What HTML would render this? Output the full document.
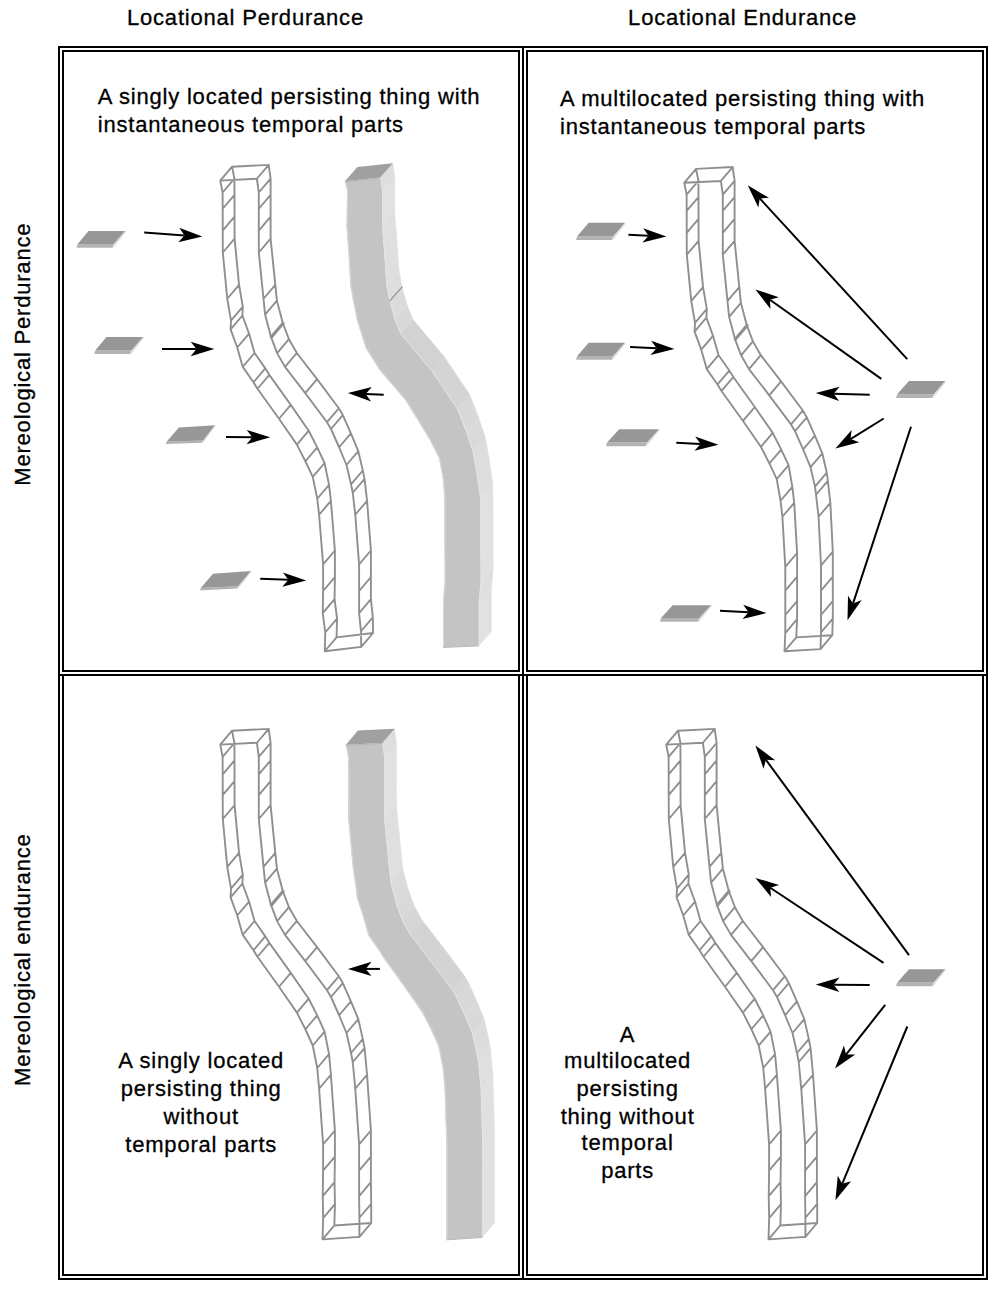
<!DOCTYPE html>
<html lang="en"><head><meta charset="utf-8"><title>Locational and Mereological Persistence</title>
<style>html,body{margin:0;padding:0;background:#fff}svg{display:block}text{font-family:"Liberation Sans",Arial,Helvetica,sans-serif;font-size:22px;letter-spacing:0.8px;fill:#000;stroke:#000;stroke-width:0.3px}</style></head><body>
<svg width="1000" height="1290" viewBox="0 0 1000 1290">
<rect x="0" y="0" width="1000" height="1290" fill="#fff"/>
<g>
<rect x="58" y="46" width="930" height="2" fill="#000"/>
<rect x="58" y="1278" width="930" height="2" fill="#000"/>
<rect x="58" y="46" width="2" height="1234" fill="#000"/>
<rect x="986" y="46" width="2" height="1234" fill="#000"/>
<rect x="522" y="48" width="2" height="1230" fill="#000"/>
<rect x="60" y="674" width="926" height="2" fill="#000"/>
<rect x="62" y="50" width="458" height="2" fill="#000"/>
<rect x="62" y="670" width="458" height="2" fill="#000"/>
<rect x="62" y="50" width="2" height="622" fill="#000"/>
<rect x="518" y="50" width="2" height="622" fill="#000"/>
<rect x="62" y="676" width="2" height="600" fill="#000"/>
<rect x="518" y="676" width="2" height="600" fill="#000"/>
<rect x="62" y="1274" width="458" height="2" fill="#000"/>
<rect x="526" y="50" width="458" height="2" fill="#000"/>
<rect x="526" y="670" width="458" height="2" fill="#000"/>
<rect x="526" y="50" width="2" height="622" fill="#000"/>
<rect x="982" y="50" width="2" height="622" fill="#000"/>
<rect x="526" y="676" width="2" height="600" fill="#000"/>
<rect x="982" y="676" width="2" height="600" fill="#000"/>
<rect x="526" y="1274" width="458" height="2" fill="#000"/>
</g>
<text x="127.00" y="25.20" text-anchor="start">Locational Perdurance</text>
<text x="628.10" y="25.20" text-anchor="start">Locational Endurance</text>
<text x="0.00" y="0.00" text-anchor="start" transform="translate(29.6 485.7) rotate(-90)">Mereological Perdurance</text>
<text x="0.00" y="0.00" text-anchor="start" transform="translate(29.6 1085.9) rotate(-90)">Mereological endurance</text>
<text x="97.80" y="103.80" text-anchor="start">A singly located persisting thing with</text>
<text x="97.80" y="131.80" text-anchor="start">instantaneous temporal parts</text>
<text x="560.00" y="105.80" text-anchor="start">A multilocated persisting thing with</text>
<text x="560.00" y="133.80" text-anchor="start">instantaneous temporal parts</text>
<text x="201.20" y="1067.70" text-anchor="middle">A singly located</text>
<text x="201.20" y="1095.70" text-anchor="middle">persisting thing</text>
<text x="201.20" y="1123.70" text-anchor="middle">without</text>
<text x="201.20" y="1151.70" text-anchor="middle">temporal parts</text>
<text x="627.60" y="1041.70" text-anchor="middle">A</text>
<text x="627.60" y="1067.80" text-anchor="middle">multilocated</text>
<text x="627.60" y="1095.80" text-anchor="middle">persisting</text>
<text x="627.60" y="1123.80" text-anchor="middle">thing without</text>
<text x="627.60" y="1149.80" text-anchor="middle">temporal</text>
<text x="627.60" y="1177.80" text-anchor="middle">parts</text>
<g>
<polygon points="380.20,177.40 382.30,191.00 394.80,176.80 392.70,163.20" fill="#dedede" stroke="#dedede" stroke-width="0.6"/>
<polygon points="382.30,191.00 382.20,226.00 394.70,211.80 394.80,176.80" fill="#e1e1e1" stroke="#e1e1e1" stroke-width="0.6"/>
<polygon points="382.20,226.00 384.40,255.00 396.90,240.80 394.70,211.80" fill="#dfdfdf" stroke="#dfdfdf" stroke-width="0.6"/>
<polygon points="384.40,255.00 386.60,285.70 399.10,271.50 396.90,240.80" fill="#dfdfdf" stroke="#dfdfdf" stroke-width="0.6"/>
<polygon points="386.60,285.70 389.50,301.20 402.00,287.00 399.10,271.50" fill="#dddddd" stroke="#dddddd" stroke-width="0.6"/>
<polygon points="389.50,301.20 394.90,320.30 407.40,306.10 402.00,287.00" fill="#dbdbdb" stroke="#dbdbdb" stroke-width="0.6"/>
<polygon points="394.90,320.30 400.80,334.30 413.30,320.10 407.40,306.10" fill="#d8d8d8" stroke="#d8d8d8" stroke-width="0.6"/>
<polygon points="400.80,334.30 431.50,370.80 444.00,356.60 413.30,320.10" fill="#d2d2d2" stroke="#d2d2d2" stroke-width="0.6"/>
<polygon points="431.50,370.80 457.10,408.80 469.60,394.60 444.00,356.60" fill="#d4d4d4" stroke="#d4d4d4" stroke-width="0.6"/>
<polygon points="457.10,408.80 466.20,431.90 478.70,417.70 469.60,394.60" fill="#d9d9d9" stroke="#d9d9d9" stroke-width="0.6"/>
<polygon points="466.20,431.90 472.80,451.70 485.30,437.50 478.70,417.70" fill="#dadada" stroke="#dadada" stroke-width="0.6"/>
<polygon points="472.80,451.70 476.90,474.80 489.40,460.60 485.30,437.50" fill="#dddddd" stroke="#dddddd" stroke-width="0.6"/>
<polygon points="476.90,474.80 480.30,499.50 492.80,485.30 489.40,460.60" fill="#dedede" stroke="#dedede" stroke-width="0.6"/>
<polygon points="480.30,499.50 480.70,581.60 493.20,567.40 492.80,485.30" fill="#e1e1e1" stroke="#e1e1e1" stroke-width="0.6"/>
<polygon points="480.70,581.60 478.80,602.20 491.30,588.00 493.20,567.40" fill="#dfdfdf" stroke="#dfdfdf" stroke-width="0.6"/>
<polygon points="478.80,602.20 478.80,645.70 491.30,631.50 491.30,588.00" fill="#e1e1e1" stroke="#e1e1e1" stroke-width="0.6"/>
<polygon points="344.90,181.30 380.20,177.40 392.70,163.20 357.40,167.10" fill="#a0a0a0"/>
<polygon points="344.90,181.30 347.10,191.00 346.50,226.00 348.60,255.00 350.50,287.00 353.50,303.00 357.00,320.50 365.70,348.00 379.50,370.00 405.30,400.00 429.00,438.50 439.00,458.30 443.00,479.75 444.40,499.50 444.60,581.60 443.00,602.20 443.00,647.20 478.80,645.70 478.80,602.20 480.70,581.60 480.30,499.50 476.90,474.80 472.80,451.70 466.20,431.90 457.10,408.80 431.50,370.80 400.80,334.30 394.90,320.30 389.50,301.20 386.60,285.70 384.40,255.00 382.20,226.00 382.30,191.00 380.20,177.40" fill="#c4c4c4"/>
<polyline points="345.50,181.30 347.70,191.00 347.10,226.00 349.20,255.00 351.10,287.00 354.10,303.00 357.60,320.50 366.30,348.00 380.10,370.00 405.90,400.00 429.60,438.50 439.60,458.30 443.60,479.75 445.00,499.50 445.20,581.60 443.60,602.20 443.60,647.20" fill="none" stroke="#d6d6d6" stroke-width="1.2"/>
<polyline points="380.60,177.40 382.70,191.00 382.60,226.00 384.80,255.00 387.00,285.70 389.90,301.20 395.30,320.30 401.20,334.30 431.90,370.80 457.50,408.80 466.60,431.90 473.20,451.70 477.30,474.80 480.70,499.50 481.10,581.60 479.20,602.20 479.20,645.70" fill="none" stroke="#e6e6e6" stroke-width="0.9"/>
<line x1="344.90" y1="181.70" x2="380.20" y2="177.80" stroke="#b4b4b4" stroke-width="1"/>
<line x1="443.00" y1="647.40" x2="478.80" y2="645.90" stroke="#b6b6b6" stroke-width="1"/>
<line x1="389.50" y1="301.20" x2="402.40" y2="286.60" stroke="#8f8f8f" stroke-width="1.2"/>
</g>
<g>
<polygon points="382.40,743.05 384.30,757.20 396.40,742.90 394.50,728.75" fill="#dedede" stroke="#dedede" stroke-width="0.6"/>
<polygon points="384.30,757.20 384.30,774.65 396.40,760.35 396.40,742.90" fill="#e1e1e1" stroke="#e1e1e1" stroke-width="0.6"/>
<polygon points="384.30,774.65 384.30,795.40 396.40,781.10 396.40,760.35" fill="#e1e1e1" stroke="#e1e1e1" stroke-width="0.6"/>
<polygon points="384.30,795.40 384.30,819.30 396.40,805.00 396.40,781.10" fill="#e1e1e1" stroke="#e1e1e1" stroke-width="0.6"/>
<polygon points="384.30,819.30 389.00,867.15 401.10,852.85 396.40,805.00" fill="#dfdfdf" stroke="#dfdfdf" stroke-width="0.6"/>
<polygon points="389.00,867.15 390.60,882.90 402.70,868.60 401.10,852.85" fill="#dfdfdf" stroke="#dfdfdf" stroke-width="0.6"/>
<polygon points="390.60,882.90 396.50,905.20 408.60,890.90 402.70,868.60" fill="#dbdbdb" stroke="#dbdbdb" stroke-width="0.6"/>
<polygon points="396.50,905.20 402.60,921.40 414.70,907.10 408.60,890.90" fill="#d9d9d9" stroke="#d9d9d9" stroke-width="0.6"/>
<polygon points="402.60,921.40 410.50,935.20 422.60,920.90 414.70,907.10" fill="#d6d6d6" stroke="#d6d6d6" stroke-width="0.6"/>
<polygon points="410.50,935.20 430.75,961.40 442.85,947.10 422.60,920.90" fill="#d3d3d3" stroke="#d3d3d3" stroke-width="0.6"/>
<polygon points="430.75,961.40 452.50,990.50 464.60,976.20 442.85,947.10" fill="#d3d3d3" stroke="#d3d3d3" stroke-width="0.6"/>
<polygon points="452.50,990.50 456.50,997.30 468.60,983.00 464.60,976.20" fill="#d6d6d6" stroke="#d6d6d6" stroke-width="0.6"/>
<polygon points="456.50,997.30 464.60,1015.55 476.70,1001.25 468.60,983.00" fill="#d8d8d8" stroke="#d8d8d8" stroke-width="0.6"/>
<polygon points="464.60,1015.55 472.00,1033.30 484.10,1019.00 476.70,1001.25" fill="#d9d9d9" stroke="#d9d9d9" stroke-width="0.6"/>
<polygon points="472.00,1033.30 476.50,1053.30 488.60,1039.00 484.10,1019.00" fill="#dcdcdc" stroke="#dcdcdc" stroke-width="0.6"/>
<polygon points="476.50,1053.30 478.25,1062.30 490.35,1048.00 488.60,1039.00" fill="#dddddd" stroke="#dddddd" stroke-width="0.6"/>
<polygon points="478.25,1062.30 480.75,1088.95 492.85,1074.65 490.35,1048.00" fill="#dfdfdf" stroke="#dfdfdf" stroke-width="0.6"/>
<polygon points="480.75,1088.95 482.40,1144.70 494.50,1130.40 492.85,1074.65" fill="#e0e0e0" stroke="#e0e0e0" stroke-width="0.6"/>
<polygon points="482.40,1144.70 482.40,1170.90 494.50,1156.60 494.50,1130.40" fill="#e1e1e1" stroke="#e1e1e1" stroke-width="0.6"/>
<polygon points="482.40,1170.90 482.40,1196.40 494.50,1182.10 494.50,1156.60" fill="#e1e1e1" stroke="#e1e1e1" stroke-width="0.6"/>
<polygon points="482.40,1196.40 482.40,1218.05 494.50,1203.75 494.50,1182.10" fill="#e1e1e1" stroke="#e1e1e1" stroke-width="0.6"/>
<polygon points="482.40,1218.05 482.40,1237.20 494.50,1222.90 494.50,1203.75" fill="#e1e1e1" stroke="#e1e1e1" stroke-width="0.6"/>
<polygon points="345.75,744.90 382.40,743.05 394.50,728.75 357.85,730.60" fill="#a0a0a0"/>
<polygon points="345.75,744.90 348.10,757.20 348.20,774.65 348.20,795.40 348.30,819.30 352.75,867.15 355.90,888.90 356.90,897.70 362.75,915.80 368.25,935.20 379.00,950.55 383.00,957.05 404.50,987.05 422.40,1012.90 430.90,1029.55 438.25,1045.80 442.75,1068.30 444.60,1088.95 446.40,1144.70 446.40,1170.90 446.40,1196.40 446.40,1218.40 446.40,1239.65 482.40,1237.20 482.40,1218.05 482.40,1196.40 482.40,1170.90 482.40,1144.70 480.75,1088.95 478.25,1062.30 476.50,1053.30 472.00,1033.30 464.60,1015.55 456.50,997.30 452.50,990.50 430.75,961.40 410.50,935.20 402.60,921.40 396.50,905.20 390.60,882.90 389.00,867.15 384.30,819.30 384.30,795.40 384.30,774.65 384.30,757.20 382.40,743.05" fill="#c4c4c4"/>
<polyline points="346.35,744.90 348.70,757.20 348.80,774.65 348.80,795.40 348.90,819.30 353.35,867.15 356.50,888.90 357.50,897.70 363.35,915.80 368.85,935.20 379.60,950.55 383.60,957.05 405.10,987.05 423.00,1012.90 431.50,1029.55 438.85,1045.80 443.35,1068.30 445.20,1088.95 447.00,1144.70 447.00,1170.90 447.00,1196.40 447.00,1218.40 447.00,1239.65" fill="none" stroke="#d6d6d6" stroke-width="1.2"/>
<polyline points="382.80,743.05 384.70,757.20 384.70,774.65 384.70,795.40 384.70,819.30 389.40,867.15 391.00,882.90 396.90,905.20 403.00,921.40 410.90,935.20 431.15,961.40 452.90,990.50 456.90,997.30 465.00,1015.55 472.40,1033.30 476.90,1053.30 478.65,1062.30 481.15,1088.95 482.80,1144.70 482.80,1170.90 482.80,1196.40 482.80,1218.05 482.80,1237.20" fill="none" stroke="#e6e6e6" stroke-width="0.9"/>
<line x1="345.75" y1="745.30" x2="382.40" y2="743.45" stroke="#b4b4b4" stroke-width="1"/>
<line x1="446.40" y1="1239.85" x2="482.40" y2="1237.40" stroke="#b6b6b6" stroke-width="1"/>
</g>
<path d="M220.25 180.60 L222.60 192.50 L222.70 208.75 L222.70 230.60 L222.80 252.50 L227.25 298.75 L231.00 320.60 L230.60 329.40 L237.25 347.50 L242.75 366.90 L253.50 382.25 L257.50 388.75 L279.00 418.75 L296.90 444.60 L305.40 461.25 L312.75 476.90 L317.25 498.75 L319.10 514.75 L323.10 564.40 L323.10 591.00 L322.75 613.10 L325.25 632.50 L324.75 651.25 M256.90 178.75 L258.80 192.50 L258.80 208.75 L258.80 230.60 L258.80 252.50 L263.50 298.75 L265.10 314.60 L271.00 336.90 L277.10 353.10 L285.00 366.90 L305.25 393.10 L327.00 422.20 L331.00 429.00 L339.10 447.25 L346.50 465.00 L351.00 484.40 L352.75 492.75 L355.25 514.75 L359.10 564.40 L359.10 591.00 L359.10 613.10 L361.00 631.25 L361.25 646.90 M232.05 166.70 L234.40 178.60 L234.50 194.85 L234.50 216.70 L234.60 238.60 L239.05 284.85 L242.80 306.70 L242.40 315.50 L249.05 333.60 L254.55 353.00 L265.30 368.35 L269.30 374.85 L290.80 404.85 L308.70 430.70 L317.20 447.35 L324.55 463.00 L329.05 484.85 L330.90 500.85 L334.90 550.50 L334.90 577.10 L334.55 599.20 L337.05 618.60 L336.55 637.35 M268.70 164.85 L270.60 178.60 L270.60 194.85 L270.60 216.70 L270.60 238.60 L275.30 284.85 L276.90 300.70 L282.80 323.00 L288.90 339.20 L296.80 353.00 L317.05 379.20 L338.80 408.30 L342.80 415.10 L350.90 433.35 L358.30 451.10 L362.80 470.50 L364.55 478.85 L367.05 500.85 L370.90 550.50 L370.90 577.10 L370.90 599.20 L372.80 617.35 L373.05 633.00 M220.25 180.60 L256.90 178.75 M232.05 166.70 L268.70 164.85 M324.75 651.25 L361.25 646.90 M336.55 637.35 L373.05 633.00 M220.25 180.60 L232.05 166.70 M222.60 192.50 L234.40 178.60 M222.70 208.75 L234.50 194.85 M222.70 230.60 L234.50 216.70 M222.80 252.50 L234.60 238.60 M227.25 298.75 L239.05 284.85 M231.00 320.60 L242.80 306.70 M230.60 329.40 L242.40 315.50 M237.25 347.50 L249.05 333.60 M242.75 366.90 L254.55 353.00 M253.50 382.25 L265.30 368.35 M257.50 388.75 L269.30 374.85 M279.00 418.75 L290.80 404.85 M296.90 444.60 L308.70 430.70 M305.40 461.25 L317.20 447.35 M312.75 476.90 L324.55 463.00 M317.25 498.75 L329.05 484.85 M319.10 514.75 L330.90 500.85 M323.10 564.40 L334.90 550.50 M323.10 591.00 L334.90 577.10 M322.75 613.10 L334.55 599.20 M325.25 632.50 L337.05 618.60 M324.75 651.25 L336.55 637.35 M256.90 178.75 L268.70 164.85 M258.80 192.50 L270.60 178.60 M258.80 208.75 L270.60 194.85 M258.80 230.60 L270.60 216.70 M258.80 252.50 L270.60 238.60 M263.50 298.75 L275.30 284.85 M265.10 314.60 L276.90 300.70 M271.00 336.90 L282.80 323.00 M277.10 353.10 L288.90 339.20 M285.00 366.90 L296.80 353.00 M305.25 393.10 L317.05 379.20 M327.00 422.20 L338.80 408.30 M331.00 429.00 L342.80 415.10 M339.10 447.25 L350.90 433.35 M346.50 465.00 L358.30 451.10 M351.00 484.40 L362.80 470.50 M352.75 492.75 L364.55 478.85 M355.25 514.75 L367.05 500.85 M359.10 564.40 L370.90 550.50 M359.10 591.00 L370.90 577.10 M359.10 613.10 L370.90 599.20 M361.00 631.25 L372.80 617.35 M361.25 646.90 L373.05 633.00" fill="none" stroke="#8f8f8f" stroke-width="1.9" stroke-linejoin="round" stroke-linecap="round"/>
<path d="M271.30 337.20 L283.10 323.30" fill="none" stroke="#8f8f8f" stroke-width="3" stroke-linecap="round"/>
<path d="M684.25 182.80 L686.60 194.70 L686.70 210.95 L686.70 232.80 L686.80 254.70 L691.25 300.95 L695.00 322.80 L694.60 331.60 L701.25 349.70 L706.75 369.10 L717.50 384.45 L721.50 390.95 L743.00 420.95 L760.90 446.80 L769.40 463.45 L776.75 479.10 L780.55 500.75 L782.40 516.75 L785.30 566.90 L785.30 590.60 L785.30 615.00 L785.30 633.10 L784.50 651.25 M720.90 180.95 L722.80 194.70 L722.80 210.95 L722.80 232.80 L722.80 254.70 L727.50 300.95 L729.10 316.80 L735.00 339.10 L741.10 355.30 L749.00 369.10 L769.25 395.30 L791.00 424.40 L795.00 431.20 L803.10 449.45 L810.50 467.20 L815.00 486.60 L816.05 494.75 L818.55 516.75 L821.00 565.50 L821.00 590.60 L821.00 615.00 L821.00 632.50 L820.50 649.10 M696.05 168.90 L698.40 180.80 L698.50 197.05 L698.50 218.90 L698.60 240.80 L703.05 287.05 L706.80 308.90 L706.40 317.70 L713.05 335.80 L718.55 355.20 L729.30 370.55 L733.30 377.05 L754.80 407.05 L772.70 432.90 L781.20 449.55 L788.55 465.20 L792.35 486.85 L794.20 502.85 L797.10 553.00 L797.10 576.70 L797.10 601.10 L797.10 619.20 L796.30 637.35 M732.70 167.05 L734.60 180.80 L734.60 197.05 L734.60 218.90 L734.60 240.80 L739.30 287.05 L740.90 302.90 L746.80 325.20 L752.90 341.40 L760.80 355.20 L781.05 381.40 L802.80 410.50 L806.80 417.30 L814.90 435.55 L822.30 453.30 L826.80 472.70 L827.85 480.85 L830.35 502.85 L832.80 551.60 L832.80 576.70 L832.80 601.10 L832.80 618.60 L832.30 635.20 M684.25 182.80 L720.90 180.95 M696.05 168.90 L732.70 167.05 M784.50 651.25 L820.50 649.10 M796.30 637.35 L832.30 635.20 M684.25 182.80 L696.05 168.90 M686.60 194.70 L698.40 180.80 M686.70 210.95 L698.50 197.05 M686.70 232.80 L698.50 218.90 M686.80 254.70 L698.60 240.80 M691.25 300.95 L703.05 287.05 M695.00 322.80 L706.80 308.90 M694.60 331.60 L706.40 317.70 M701.25 349.70 L713.05 335.80 M706.75 369.10 L718.55 355.20 M717.50 384.45 L729.30 370.55 M721.50 390.95 L733.30 377.05 M743.00 420.95 L754.80 407.05 M760.90 446.80 L772.70 432.90 M769.40 463.45 L781.20 449.55 M776.75 479.10 L788.55 465.20 M780.55 500.75 L792.35 486.85 M782.40 516.75 L794.20 502.85 M785.30 566.90 L797.10 553.00 M785.30 590.60 L797.10 576.70 M785.30 615.00 L797.10 601.10 M785.30 633.10 L797.10 619.20 M784.50 651.25 L796.30 637.35 M720.90 180.95 L732.70 167.05 M722.80 194.70 L734.60 180.80 M722.80 210.95 L734.60 197.05 M722.80 232.80 L734.60 218.90 M722.80 254.70 L734.60 240.80 M727.50 300.95 L739.30 287.05 M729.10 316.80 L740.90 302.90 M735.00 339.10 L746.80 325.20 M741.10 355.30 L752.90 341.40 M749.00 369.10 L760.80 355.20 M769.25 395.30 L781.05 381.40 M791.00 424.40 L802.80 410.50 M795.00 431.20 L806.80 417.30 M803.10 449.45 L814.90 435.55 M810.50 467.20 L822.30 453.30 M815.00 486.60 L826.80 472.70 M816.05 494.75 L827.85 480.85 M818.55 516.75 L830.35 502.85 M821.00 565.50 L832.80 551.60 M821.00 590.60 L832.80 576.70 M821.00 615.00 L832.80 601.10 M821.00 632.50 L832.80 618.60 M820.50 649.10 L832.30 635.20" fill="none" stroke="#8f8f8f" stroke-width="1.9" stroke-linejoin="round" stroke-linecap="round"/>
<path d="M735.30 339.40 L747.10 325.50" fill="none" stroke="#8f8f8f" stroke-width="3" stroke-linecap="round"/>
<path d="M220.25 744.60 L222.60 756.90 L222.70 774.35 L222.70 795.10 L222.80 819.00 L227.25 866.85 L231.00 888.60 L230.60 897.40 L237.25 915.50 L242.75 934.90 L253.50 950.25 L257.50 956.75 L279.00 986.75 L296.90 1012.60 L305.40 1029.25 L312.75 1045.50 L317.25 1068.00 L319.10 1088.65 L323.10 1144.40 L323.10 1170.60 L322.75 1196.10 L323.15 1218.10 L322.55 1239.35 M256.90 742.75 L258.80 756.90 L258.80 774.35 L258.80 795.10 L258.80 819.00 L263.50 866.85 L265.10 882.60 L271.00 904.90 L277.10 921.10 L285.00 934.90 L305.25 961.10 L327.00 990.20 L331.00 997.00 L339.10 1015.25 L346.50 1033.00 L351.00 1053.00 L352.75 1062.00 L355.25 1088.65 L359.10 1144.40 L359.10 1170.60 L359.10 1196.10 L359.40 1217.75 L359.40 1236.90 M232.05 730.70 L234.40 743.00 L234.50 760.45 L234.50 781.20 L234.60 805.10 L239.05 852.95 L242.80 874.70 L242.40 883.50 L249.05 901.60 L254.55 921.00 L265.30 936.35 L269.30 942.85 L290.80 972.85 L308.70 998.70 L317.20 1015.35 L324.55 1031.60 L329.05 1054.10 L330.90 1074.75 L334.90 1130.50 L334.90 1156.70 L334.55 1182.20 L334.95 1204.20 L334.35 1225.45 M268.70 728.85 L270.60 743.00 L270.60 760.45 L270.60 781.20 L270.60 805.10 L275.30 852.95 L276.90 868.70 L282.80 891.00 L288.90 907.20 L296.80 921.00 L317.05 947.20 L338.80 976.30 L342.80 983.10 L350.90 1001.35 L358.30 1019.10 L362.80 1039.10 L364.55 1048.10 L367.05 1074.75 L370.90 1130.50 L370.90 1156.70 L370.90 1182.20 L371.20 1203.85 L371.20 1223.00 M220.25 744.60 L256.90 742.75 M232.05 730.70 L268.70 728.85 M322.55 1239.35 L359.40 1236.90 M334.35 1225.45 L371.20 1223.00 M220.25 744.60 L232.05 730.70 M222.60 756.90 L234.40 743.00 M222.70 774.35 L234.50 760.45 M222.70 795.10 L234.50 781.20 M222.80 819.00 L234.60 805.10 M227.25 866.85 L239.05 852.95 M231.00 888.60 L242.80 874.70 M230.60 897.40 L242.40 883.50 M237.25 915.50 L249.05 901.60 M242.75 934.90 L254.55 921.00 M253.50 950.25 L265.30 936.35 M257.50 956.75 L269.30 942.85 M279.00 986.75 L290.80 972.85 M296.90 1012.60 L308.70 998.70 M305.40 1029.25 L317.20 1015.35 M312.75 1045.50 L324.55 1031.60 M317.25 1068.00 L329.05 1054.10 M319.10 1088.65 L330.90 1074.75 M323.10 1144.40 L334.90 1130.50 M323.10 1170.60 L334.90 1156.70 M322.75 1196.10 L334.55 1182.20 M323.15 1218.10 L334.95 1204.20 M322.55 1239.35 L334.35 1225.45 M256.90 742.75 L268.70 728.85 M258.80 756.90 L270.60 743.00 M258.80 774.35 L270.60 760.45 M258.80 795.10 L270.60 781.20 M258.80 819.00 L270.60 805.10 M263.50 866.85 L275.30 852.95 M265.10 882.60 L276.90 868.70 M271.00 904.90 L282.80 891.00 M277.10 921.10 L288.90 907.20 M285.00 934.90 L296.80 921.00 M305.25 961.10 L317.05 947.20 M327.00 990.20 L338.80 976.30 M331.00 997.00 L342.80 983.10 M339.10 1015.25 L350.90 1001.35 M346.50 1033.00 L358.30 1019.10 M351.00 1053.00 L362.80 1039.10 M352.75 1062.00 L364.55 1048.10 M355.25 1088.65 L367.05 1074.75 M359.10 1144.40 L370.90 1130.50 M359.10 1170.60 L370.90 1156.70 M359.10 1196.10 L370.90 1182.20 M359.40 1217.75 L371.20 1203.85 M359.40 1236.90 L371.20 1223.00" fill="none" stroke="#8f8f8f" stroke-width="1.9" stroke-linejoin="round" stroke-linecap="round"/>
<path d="M271.30 905.20 L283.10 891.30" fill="none" stroke="#8f8f8f" stroke-width="3" stroke-linecap="round"/>
<path d="M666.25 744.60 L668.60 756.90 L668.70 774.35 L668.70 795.10 L668.80 819.00 L673.25 866.85 L677.00 888.60 L676.60 897.40 L683.25 915.50 L688.75 934.90 L699.50 950.25 L703.50 956.75 L725.00 986.75 L742.90 1012.60 L751.40 1029.25 L758.75 1045.50 L763.25 1068.00 L765.10 1088.65 L769.10 1144.40 L769.10 1170.60 L768.75 1196.10 L769.15 1218.10 L768.55 1239.35 M702.90 742.75 L704.80 756.90 L704.80 774.35 L704.80 795.10 L704.80 819.00 L709.50 866.85 L711.10 882.60 L717.00 904.90 L723.10 921.10 L731.00 934.90 L751.25 961.10 L773.00 990.20 L777.00 997.00 L785.10 1015.25 L792.50 1033.00 L797.00 1053.00 L798.75 1062.00 L801.25 1088.65 L805.10 1144.40 L805.10 1170.60 L805.10 1196.10 L805.40 1217.75 L805.40 1236.90 M678.05 730.70 L680.40 743.00 L680.50 760.45 L680.50 781.20 L680.60 805.10 L685.05 852.95 L688.80 874.70 L688.40 883.50 L695.05 901.60 L700.55 921.00 L711.30 936.35 L715.30 942.85 L736.80 972.85 L754.70 998.70 L763.20 1015.35 L770.55 1031.60 L775.05 1054.10 L776.90 1074.75 L780.90 1130.50 L780.90 1156.70 L780.55 1182.20 L780.95 1204.20 L780.35 1225.45 M714.70 728.85 L716.60 743.00 L716.60 760.45 L716.60 781.20 L716.60 805.10 L721.30 852.95 L722.90 868.70 L728.80 891.00 L734.90 907.20 L742.80 921.00 L763.05 947.20 L784.80 976.30 L788.80 983.10 L796.90 1001.35 L804.30 1019.10 L808.80 1039.10 L810.55 1048.10 L813.05 1074.75 L816.90 1130.50 L816.90 1156.70 L816.90 1182.20 L817.20 1203.85 L817.20 1223.00 M666.25 744.60 L702.90 742.75 M678.05 730.70 L714.70 728.85 M768.55 1239.35 L805.40 1236.90 M780.35 1225.45 L817.20 1223.00 M666.25 744.60 L678.05 730.70 M668.60 756.90 L680.40 743.00 M668.70 774.35 L680.50 760.45 M668.70 795.10 L680.50 781.20 M668.80 819.00 L680.60 805.10 M673.25 866.85 L685.05 852.95 M677.00 888.60 L688.80 874.70 M676.60 897.40 L688.40 883.50 M683.25 915.50 L695.05 901.60 M688.75 934.90 L700.55 921.00 M699.50 950.25 L711.30 936.35 M703.50 956.75 L715.30 942.85 M725.00 986.75 L736.80 972.85 M742.90 1012.60 L754.70 998.70 M751.40 1029.25 L763.20 1015.35 M758.75 1045.50 L770.55 1031.60 M763.25 1068.00 L775.05 1054.10 M765.10 1088.65 L776.90 1074.75 M769.10 1144.40 L780.90 1130.50 M769.10 1170.60 L780.90 1156.70 M768.75 1196.10 L780.55 1182.20 M769.15 1218.10 L780.95 1204.20 M768.55 1239.35 L780.35 1225.45 M702.90 742.75 L714.70 728.85 M704.80 756.90 L716.60 743.00 M704.80 774.35 L716.60 760.45 M704.80 795.10 L716.60 781.20 M704.80 819.00 L716.60 805.10 M709.50 866.85 L721.30 852.95 M711.10 882.60 L722.90 868.70 M717.00 904.90 L728.80 891.00 M723.10 921.10 L734.90 907.20 M731.00 934.90 L742.80 921.00 M751.25 961.10 L763.05 947.20 M773.00 990.20 L784.80 976.30 M777.00 997.00 L788.80 983.10 M785.10 1015.25 L796.90 1001.35 M792.50 1033.00 L804.30 1019.10 M797.00 1053.00 L808.80 1039.10 M798.75 1062.00 L810.55 1048.10 M801.25 1088.65 L813.05 1074.75 M805.10 1144.40 L816.90 1130.50 M805.10 1170.60 L816.90 1156.70 M805.10 1196.10 L816.90 1182.20 M805.40 1217.75 L817.20 1203.85 M805.40 1236.90 L817.20 1223.00" fill="none" stroke="#8f8f8f" stroke-width="1.9" stroke-linejoin="round" stroke-linecap="round"/>
<path d="M717.30 905.20 L729.10 891.30" fill="none" stroke="#8f8f8f" stroke-width="3" stroke-linecap="round"/>
<polygon points="125.10,231.10 126.00,231.70 113.40,247.80 113.70,244.10" fill="#dedede"/>
<polygon points="77.70,244.10 113.70,244.10 112.50,247.80 76.50,247.80" fill="#b3b3b3"/>
<polygon points="88.50,231.10 125.10,231.10 113.70,244.10 77.70,244.10" fill="#979797"/>
<polygon points="143.00,337.10 143.90,337.70 131.30,354.00 131.60,350.30" fill="#dedede"/>
<polygon points="95.40,350.30 131.60,350.30 130.40,354.00 94.20,354.00" fill="#b3b3b3"/>
<polygon points="106.40,337.10 143.00,337.10 131.60,350.30 95.40,350.30" fill="#979797"/>
<polygon points="214.80,425.20 215.70,425.80 203.20,442.80 203.10,440.50" fill="#dedede"/>
<polygon points="166.60,441.80 203.10,440.50 202.30,442.80 165.80,444.10" fill="#b3b3b3"/>
<polygon points="178.80,427.40 214.80,425.20 203.10,440.50 166.60,441.80" fill="#979797"/>
<polygon points="250.80,571.00 251.70,571.60 238.30,588.60 238.20,586.30" fill="#dedede"/>
<polygon points="200.80,588.10 238.20,586.30 237.40,588.60 200.00,590.40" fill="#b3b3b3"/>
<polygon points="213.00,573.70 250.80,571.00 238.20,586.30 200.80,588.10" fill="#979797"/>
<polygon points="624.90,222.80 625.80,223.40 612.90,240.00 613.20,236.30" fill="#dedede"/>
<polygon points="577.20,236.30 613.20,236.30 612.00,240.00 576.00,240.00" fill="#b3b3b3"/>
<polygon points="588.70,222.80 624.90,222.80 613.20,236.30 577.20,236.30" fill="#979797"/>
<polygon points="624.90,342.80 625.80,343.40 612.90,359.80 613.20,356.10" fill="#dedede"/>
<polygon points="577.20,356.10 613.20,356.10 612.00,359.80 576.00,359.80" fill="#b3b3b3"/>
<polygon points="588.70,342.80 624.90,342.80 613.20,356.10 577.20,356.10" fill="#979797"/>
<polygon points="659.00,429.20 659.90,429.80 646.70,446.20 647.00,442.50" fill="#dedede"/>
<polygon points="607.00,442.50 647.00,442.50 645.80,446.20 605.80,446.20" fill="#b3b3b3"/>
<polygon points="619.20,429.20 659.00,429.20 647.00,442.50 607.00,442.50" fill="#979797"/>
<polygon points="711.00,605.20 711.90,605.80 699.00,621.80 699.30,618.10" fill="#dedede"/>
<polygon points="661.00,618.10 699.30,618.10 698.10,621.80 659.80,621.80" fill="#b3b3b3"/>
<polygon points="672.70,605.20 711.00,605.20 699.30,618.10 661.00,618.10" fill="#979797"/>
<polygon points="945.10,381.10 946.00,381.70 933.30,397.90 933.60,394.20" fill="#dedede"/>
<polygon points="897.20,394.20 933.60,394.20 932.40,397.90 896.00,397.90" fill="#b3b3b3"/>
<polygon points="909.00,381.10 945.10,381.10 933.60,394.20 897.20,394.20" fill="#979797"/>
<polygon points="945.10,969.20 946.00,969.80 933.30,986.20 933.60,982.50" fill="#dedede"/>
<polygon points="897.20,982.50 933.60,982.50 932.40,986.20 896.00,986.20" fill="#b3b3b3"/>
<polygon points="909.00,969.20 945.10,969.20 933.60,982.50 897.20,982.50" fill="#979797"/>
<line x1="144.20" y1="232.60" x2="184.54" y2="235.38" stroke="#000" stroke-width="2"/>
<polygon points="202.30,236.60 178.26,242.16 184.54,235.38 179.25,227.80" fill="#000"/>
<line x1="162.00" y1="348.90" x2="196.50" y2="348.97" stroke="#000" stroke-width="2"/>
<polygon points="214.30,349.00 190.69,356.15 196.50,348.97 190.71,341.75" fill="#000"/>
<line x1="226.00" y1="436.90" x2="252.40" y2="437.14" stroke="#000" stroke-width="2"/>
<polygon points="270.20,437.30 246.54,444.29 252.40,437.14 246.67,429.89" fill="#000"/>
<line x1="260.20" y1="578.70" x2="288.41" y2="579.80" stroke="#000" stroke-width="2"/>
<polygon points="306.20,580.50 282.34,586.77 288.41,579.80 282.90,572.38" fill="#000"/>
<line x1="383.70" y1="394.80" x2="365.68" y2="393.94" stroke="#000" stroke-width="2"/>
<polygon points="347.90,393.10 371.81,387.03 365.68,393.94 371.13,401.41" fill="#000"/>
<line x1="628.40" y1="234.70" x2="648.62" y2="235.66" stroke="#000" stroke-width="2"/>
<polygon points="666.40,236.50 642.49,242.58 648.62,235.66 643.17,228.19" fill="#000"/>
<line x1="630.10" y1="346.90" x2="656.62" y2="348.22" stroke="#000" stroke-width="2"/>
<polygon points="674.40,349.10 650.47,355.12 656.62,348.22 651.19,340.74" fill="#000"/>
<line x1="676.30" y1="442.70" x2="700.62" y2="443.91" stroke="#000" stroke-width="2"/>
<polygon points="718.40,444.80 694.47,450.82 700.62,443.91 695.19,436.43" fill="#000"/>
<line x1="720.00" y1="610.70" x2="748.62" y2="612.18" stroke="#000" stroke-width="2"/>
<polygon points="766.40,613.10 742.46,619.07 748.62,612.18 743.20,604.69" fill="#000"/>
<line x1="907.20" y1="359.10" x2="759.74" y2="198.41" stroke="#000" stroke-width="2"/>
<polygon points="747.70,185.30 768.96,197.82 759.74,198.41 758.35,207.56" fill="#000"/>
<line x1="881.30" y1="378.90" x2="769.91" y2="299.71" stroke="#000" stroke-width="2"/>
<polygon points="755.40,289.40 778.81,297.21 769.91,299.71 770.46,308.94" fill="#000"/>
<line x1="869.70" y1="394.80" x2="833.59" y2="393.66" stroke="#000" stroke-width="2"/>
<polygon points="815.80,393.10 839.62,386.65 833.59,393.66 839.16,401.04" fill="#000"/>
<line x1="883.70" y1="418.50" x2="850.52" y2="439.11" stroke="#000" stroke-width="2"/>
<polygon points="835.40,448.50 851.65,429.93 850.52,439.11 859.25,442.16" fill="#000"/>
<line x1="911.00" y1="426.80" x2="853.05" y2="603.39" stroke="#000" stroke-width="2"/>
<polygon points="847.50,620.30 848.02,595.63 853.05,603.39 861.70,600.12" fill="#000"/>
<line x1="379.90" y1="968.90" x2="365.70" y2="968.90" stroke="#000" stroke-width="2"/>
<polygon points="347.90,968.90 371.50,961.70 365.70,968.90 371.50,976.10" fill="#000"/>
<line x1="909.00" y1="955.10" x2="765.92" y2="759.76" stroke="#000" stroke-width="2"/>
<polygon points="755.40,745.40 775.15,760.18 765.92,759.76 763.54,768.69" fill="#000"/>
<line x1="883.50" y1="962.80" x2="770.24" y2="887.73" stroke="#000" stroke-width="2"/>
<polygon points="755.40,877.90 779.05,884.94 770.24,887.73 771.09,896.94" fill="#000"/>
<line x1="869.70" y1="985.00" x2="833.60" y2="984.73" stroke="#000" stroke-width="2"/>
<polygon points="815.80,984.60 839.45,977.58 833.60,984.73 839.35,991.97" fill="#000"/>
<line x1="885.20" y1="1004.80" x2="846.02" y2="1054.52" stroke="#000" stroke-width="2"/>
<polygon points="835.00,1068.50 843.95,1045.51 846.02,1054.52 855.26,1054.42" fill="#000"/>
<line x1="907.30" y1="1026.50" x2="842.20" y2="1183.85" stroke="#000" stroke-width="2"/>
<polygon points="835.40,1200.30 837.77,1175.74 842.20,1183.85 851.07,1181.24" fill="#000"/>
</svg></body></html>
